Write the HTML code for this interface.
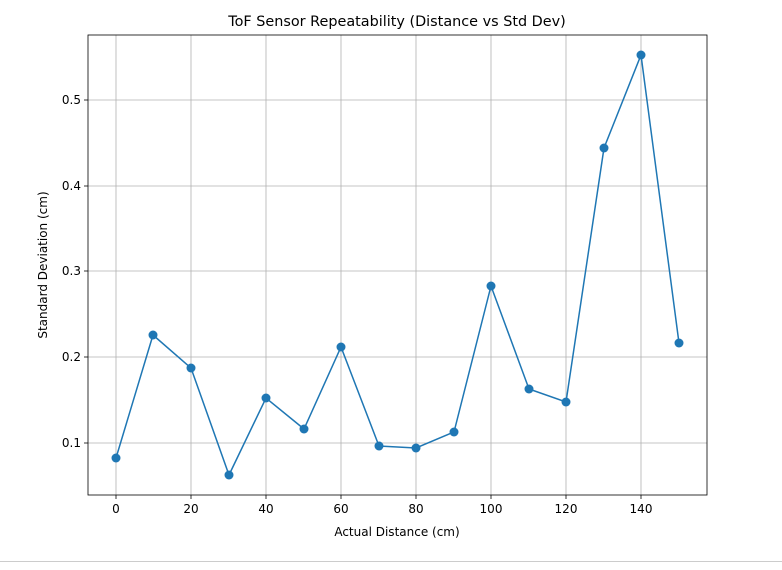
<!DOCTYPE html>
<html><head><meta charset="utf-8"><style>
body{margin:0;background:#fff;width:782px;height:570px;overflow:hidden}
svg{display:block;font-family:"DejaVu Sans","Liberation Sans",sans-serif}
</style></head><body>
<svg width="782" height="570" viewBox="0 0 782 570">
<rect width="782" height="570" fill="#fff"/>
<g stroke="#b0b0b0" stroke-width="0.8">
<line x1="116" y1="35" x2="116" y2="495"/><line x1="191" y1="35" x2="191" y2="495"/>
<line x1="266" y1="35" x2="266" y2="495"/><line x1="341" y1="35" x2="341" y2="495"/>
<line x1="416" y1="35" x2="416" y2="495"/><line x1="491" y1="35" x2="491" y2="495"/>
<line x1="566" y1="35" x2="566" y2="495"/><line x1="641" y1="35" x2="641" y2="495"/>
<line x1="88" y1="443" x2="707" y2="443"/><line x1="88" y1="357" x2="707" y2="357"/>
<line x1="88" y1="271" x2="707" y2="271"/><line x1="88" y1="186" x2="707" y2="186"/>
<line x1="88" y1="100" x2="707" y2="100"/>
</g>
<rect x="88" y="35" width="619" height="460" fill="none" stroke="#000" stroke-width="0.8"/>
<g stroke="#000" stroke-width="0.8">
<line x1="116" y1="495" x2="116" y2="499"/><line x1="191" y1="495" x2="191" y2="499"/>
<line x1="266" y1="495" x2="266" y2="499"/><line x1="341" y1="495" x2="341" y2="499"/>
<line x1="416" y1="495" x2="416" y2="499"/><line x1="491" y1="495" x2="491" y2="499"/>
<line x1="566" y1="495" x2="566" y2="499"/><line x1="641" y1="495" x2="641" y2="499"/>
<line x1="84" y1="443" x2="88" y2="443"/><line x1="84" y1="357" x2="88" y2="357"/>
<line x1="84" y1="271" x2="88" y2="271"/><line x1="84" y1="186" x2="88" y2="186"/>
<line x1="84" y1="100" x2="88" y2="100"/>
</g>
<g font-size="12" text-anchor="middle" fill="#000">
<text x="116" y="513">0</text><text x="191" y="513">20</text><text x="266" y="513">40</text>
<text x="341" y="513">60</text><text x="416" y="513">80</text><text x="491" y="513">100</text>
<text x="566" y="513">120</text><text x="641" y="513">140</text>
</g>
<g font-size="12" text-anchor="end" fill="#000">
<text x="81" y="447">0.1</text><text x="81" y="361">0.2</text><text x="81" y="275">0.3</text>
<text x="81" y="190">0.4</text><text x="81" y="104">0.5</text>
</g>
<text x="397" y="536" font-size="12" text-anchor="middle">Actual Distance (cm)</text>
<text transform="translate(47,265) rotate(-90)" font-size="12" text-anchor="middle">Standard Deviation (cm)</text>
<text x="397" y="26" font-size="14.4" text-anchor="middle">ToF Sensor Repeatability (Distance vs Std Dev)</text>
<polyline fill="none" stroke="#1f77b4" stroke-width="1.5" points="116,458 153,335 191,368 229,475 266,398 304,429 341,347 379,446 416,448 454,432 491,286 529,389 566,402 604,148 641,55 679,343"/>
<g fill="#1f77b4">
<circle cx="116" cy="458" r="4.5"/><circle cx="153" cy="335" r="4.5"/><circle cx="191" cy="368" r="4.5"/>
<circle cx="229" cy="475" r="4.5"/><circle cx="266" cy="398" r="4.5"/><circle cx="304" cy="429" r="4.5"/>
<circle cx="341" cy="347" r="4.5"/><circle cx="379" cy="446" r="4.5"/><circle cx="416" cy="448" r="4.5"/>
<circle cx="454" cy="432" r="4.5"/><circle cx="491" cy="286" r="4.5"/><circle cx="529" cy="389" r="4.5"/>
<circle cx="566" cy="402" r="4.5"/><circle cx="604" cy="148" r="4.5"/><circle cx="641" cy="55" r="4.5"/>
<circle cx="679" cy="343" r="4.5"/>
</g>
<line x1="0" y1="561.5" x2="782" y2="561.5" stroke="#ccc" stroke-width="1"/>
</svg>
</body></html>
